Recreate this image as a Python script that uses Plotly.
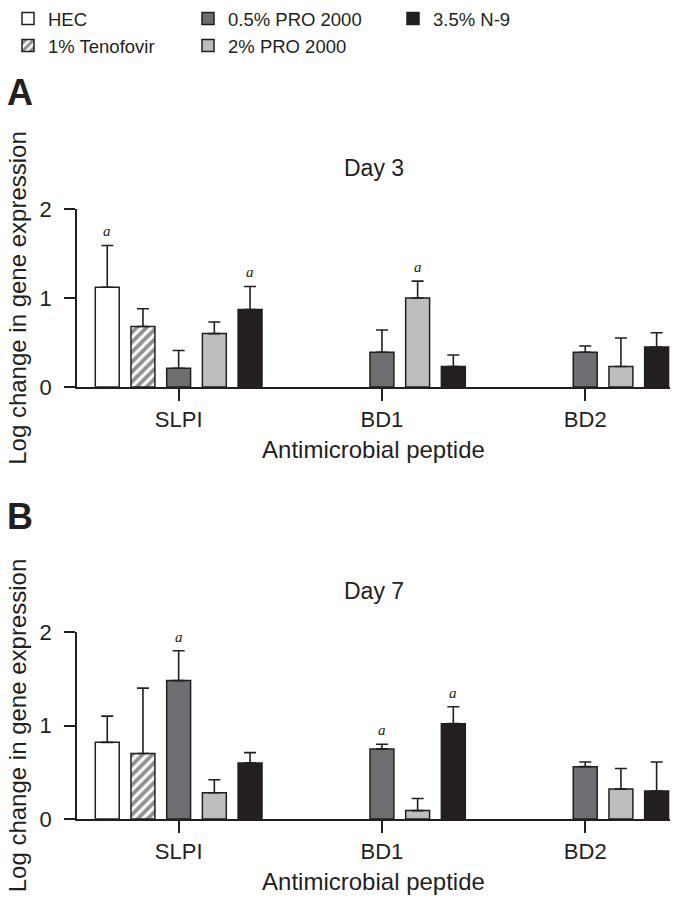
import plotly.graph_objects as go

# --- data ---
peptides = ['SLPI', 'BD1', 'BD2']
treatments = ['HEC', '1% Tenofovir', '0.5% PRO 2000', '2% PRO 2000', '3.5% N-9']

# Day 3 (panel A): mean log change and upper error
d3_hec = [1.12, None, None]
d3_hec_err = [0.47, None, None]
d3_teno = [0.68, None, None]
d3_teno_err = [0.20, None, None]
d3_pro05 = [0.21, 0.39, 0.39]
d3_pro05_err = [0.20, 0.25, 0.07]
d3_pro2 = [0.60, 1.00, 0.23]
d3_pro2_err = [0.13, 0.19, 0.32]
d3_n9 = [0.87, 0.23, 0.45]
d3_n9_err = [0.26, 0.13, 0.16]

# Day 7 (panel B)
d7_hec = [0.82, None, None]
d7_hec_err = [0.28, None, None]
d7_teno = [0.70, None, None]
d7_teno_err = [0.70, None, None]
d7_pro05 = [1.48, 0.75, 0.56]
d7_pro05_err = [0.32, 0.05, 0.05]
d7_pro2 = [0.28, 0.09, 0.32]
d7_pro2_err = [0.14, 0.13, 0.22]
d7_n9 = [0.60, 1.02, 0.30]
d7_n9_err = [0.11, 0.18, 0.31]

# significance marks "a": (treatment index, peptide index)
d3_sig = [(0, 0), (4, 0), (3, 1)]
d7_sig = [(2, 0), (2, 1), (4, 1)]

# --- style ---
W, H = 679, 909
FONT = 'Liberation Sans, Arial, sans-serif'
INK = '#231f20'
fills = ['#ffffff', '#ffffff', '#6d6e71', '#bcbec0', '#231f20']
patterns = ['', '/', '', '', '']
legend_of = ['legend', 'legend', 'legend2', 'legend2', 'legend3']
BARGAP = 0.122
GROUPGAP = 0.33

panels = [
    ('x', 'y', [d3_hec, d3_teno, d3_pro05, d3_pro2, d3_n9],
     [d3_hec_err, d3_teno_err, d3_pro05_err, d3_pro2_err, d3_n9_err], d3_sig),
    ('x2', 'y2', [d7_hec, d7_teno, d7_pro05, d7_pro2, d7_n9],
     [d7_hec_err, d7_teno_err, d7_pro05_err, d7_pro2_err, d7_n9_err], d7_sig),
]

fig = go.Figure()
annotations = []
slot = (1 - BARGAP) / len(treatments)

for p, (xa, ya, means, errs, sig) in enumerate(panels):
    for k, name in enumerate(treatments):
        fig.add_trace(go.Bar(
            x=peptides, y=means[k], name=name, xaxis=xa, yaxis=ya,
            marker=dict(color=fills[k], line=dict(color=INK, width=1.5),
                        pattern=dict(shape=patterns[k], fgcolor=INK, bgcolor='#ffffff',
                                     size=7, solidity=0.55)),
            error_y=dict(type='data', symmetric=False, array=errs[k],
                         arrayminus=[0 if v is not None else None for v in errs[k]],
                         color=INK, thickness=1.6, width=6),
            showlegend=(p == 0), legend=legend_of[k],
        ))
    for k, j in sig:
        annotations.append(dict(
            x=j + (k - 2) * slot, y=means[k][j] + errs[k][j], xref=xa, yref=ya,
            text='<i>a</i>', showarrow=False, yshift=14,
            font=dict(family='Liberation Serif, serif', size=15, color=INK)))

x_dom = [77 / W, 670 / W]
yA = [1 - 387 / H, 1 - 209 / H]
yB = [1 - 819 / H, 1 - 632 / H]

axis_common = dict(showline=True, linecolor=INK, linewidth=1.5, ticks='outside',
                   tickcolor=INK, tickwidth=1.5, showgrid=False, zeroline=False,
                   tickfont=dict(size=22, color=INK))
xcommon = dict(axis_common, ticklen=12, type='category', range=[-0.5, 2.417],
               title=dict(text='Antimicrobial peptide', font=dict(size=24), standoff=10))
ycommon = dict(axis_common, ticklen=11, range=[0, 2], tickvals=[0, 1, 2], ticklabelstandoff=8,
               title=dict(text='Log change in gene expression', font=dict(size=24), standoff=6))

for letter, ydom in (('A', yA), ('B', yB)):
    annotations.append(dict(x=5 / W, y=ydom[1] + 116 / H, xref='paper', yref='paper',
                            xanchor='left', yanchor='middle', text=f'<b>{letter}</b>',
                            showarrow=False, font=dict(size=36, color=INK)))

for label, ydom in (('Day 3', yA), ('Day 7', yB)):
    annotations.append(dict(x=(x_dom[0] + x_dom[1]) / 2, y=ydom[1] + 41 / H,
                            xref='paper', yref='paper', xanchor='center', yanchor='middle',
                            text=label, showarrow=False, font=dict(size=23, color=INK)))

leg = dict(orientation='v', yanchor='top', xanchor='left', bgcolor='rgba(0,0,0,0)',
           font=dict(size=18.5, color=INK), itemwidth=30)

fig.update_layout(
    width=W, height=H,
    margin=dict(l=0, r=0, t=0, b=0, autoexpand=False),
    paper_bgcolor='white', plot_bgcolor='white',
    font=dict(family=FONT, color=INK),
    barmode='group', bargap=BARGAP, bargroupgap=GROUPGAP,
    xaxis=dict(xcommon, domain=x_dom, anchor='y'),
    yaxis=dict(ycommon, domain=yA, anchor='x'),
    xaxis2=dict(xcommon, domain=x_dom, anchor='y2'),
    yaxis2=dict(ycommon, domain=yB, anchor='x2'),
    legend=dict(leg, x=8 / W, y=1),
    legend2=dict(leg, x=188 / W, y=1),
    legend3=dict(leg, x=393 / W, y=1),
    annotations=annotations,
)

# drop the page's default body margin so the figure sits at the window origin
fig.write_html("out.html", config={'displayModeBar': False},
               post_script="document.body.style.margin='0';")
